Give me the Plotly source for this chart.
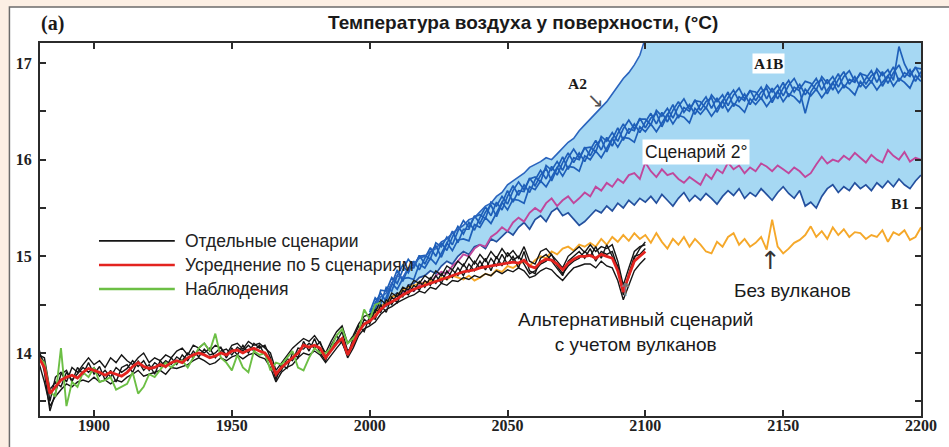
import plotly.graph_objects as go

# ---------------- data ----------------
HIST_YEARS = list(range(1880, 2101, 2))
OBS_YEARS = list(range(1880, 2005, 2))
FUT_YEARS = list(range(2000, 2201, 2))
A2_YEARS = list(range(2000, 2101, 2))
MAG_YEARS = list(range(2010, 2201, 2))

ENSEMBLE_MEAN = [
    13.95, 13.85, 13.58, 13.65, 13.72, 13.75, 13.77, 13.74, 13.80, 13.84,
    13.82, 13.80, 13.77, 13.80, 13.78, 13.76, 13.80, 13.86, 13.90, 13.86,
    13.84, 13.85, 13.88, 13.86, 13.90, 13.92, 13.90, 13.95, 13.98, 14.00,
    13.98, 13.95, 13.97, 14.00, 13.98, 14.02, 14.03, 14.00, 14.03, 14.05,
    14.02, 14.00, 13.92, 13.78, 13.85, 13.90, 13.95, 14.00, 14.08, 14.06,
    14.08, 14.05, 13.95, 14.02, 14.10, 14.15, 13.98, 14.10, 14.22, 14.30,
    14.33, 14.38, 14.45, 14.50, 14.53, 14.56, 14.60, 14.63, 14.66, 14.68,
    14.70, 14.72, 14.74, 14.76, 14.78, 14.80, 14.82, 14.84, 14.85, 14.86,
    14.88, 14.89, 14.90, 14.91, 14.92, 14.93, 14.94, 14.93, 14.96, 14.90,
    14.88, 14.94, 14.97, 14.96, 14.92, 14.86, 14.93, 14.97, 15.00, 15.00,
    15.01, 14.98, 15.02, 15.00, 14.98, 14.85, 14.63, 14.80, 14.95, 15.00,
    15.05]

RUN_1 = [
    14.00, 13.90, 13.50, 13.75, 13.80, 13.70, 13.85, 13.80, 13.88, 13.95,
    13.88, 13.92, 13.85, 13.95, 13.90, 13.98, 13.92, 13.88, 13.95, 14.00,
    13.90, 13.95, 13.92, 13.98, 13.95, 14.02, 14.05, 13.98, 14.08, 14.05,
    14.10, 14.02, 14.08, 14.05, 13.98, 14.08, 14.10, 14.04, 14.12, 14.08,
    14.10, 14.05, 14.00, 13.82, 13.90, 13.98, 14.05, 14.10, 14.15, 14.12,
    14.18, 14.10, 14.00, 14.12, 14.22, 14.28, 14.10, 14.18, 14.30, 14.38,
    14.40, 14.42, 14.55, 14.50, 14.62, 14.58, 14.68, 14.65, 14.75, 14.72,
    14.80, 14.76, 14.85, 14.80, 14.90, 14.86, 14.95, 14.90, 15.00, 14.92,
    15.02, 14.95, 15.05, 14.98, 15.08, 15.00, 15.06, 14.98, 15.10, 14.95,
    14.92, 15.05, 15.08, 15.02, 14.95, 14.88, 15.00, 15.05, 15.10, 15.04,
    15.12, 15.05, 15.10, 15.08, 15.12, 14.95, 14.70, 14.88, 15.05, 15.10,
    15.12]

RUN_2 = [
    13.90, 13.70, 13.45, 13.55, 13.62, 13.68, 13.65, 13.70, 13.72, 13.70,
    13.75, 13.70, 13.72, 13.68, 13.72, 13.70, 13.75, 13.78, 13.82, 13.76,
    13.78, 13.80, 13.82, 13.78, 13.85, 13.84, 13.86, 13.88, 13.92, 13.95,
    13.92, 13.88, 13.90, 13.95, 13.92, 13.96, 13.98, 13.94, 13.98, 14.00,
    13.96, 13.94, 13.85, 13.70, 13.80, 13.85, 13.88, 13.95, 14.00, 13.98,
    14.02, 13.98, 13.90, 13.98, 14.05, 14.12, 13.95, 14.05, 14.18, 14.25,
    14.28, 14.32, 14.40, 14.45, 14.48, 14.52, 14.55, 14.58, 14.60, 14.64,
    14.62, 14.68, 14.66, 14.72, 14.70, 14.75, 14.74, 14.78, 14.76, 14.80,
    14.78, 14.82, 14.80, 14.85, 14.82, 14.86, 14.84, 14.88, 14.85, 14.78,
    14.80, 14.85, 14.88, 14.86, 14.80, 14.75, 14.82, 14.88, 14.90, 14.92,
    14.92, 14.88, 14.95, 14.90, 14.88, 14.75, 14.55, 14.70, 14.85, 14.92,
    14.98]

RUN_3 = [
    14.05, 13.80, 13.40, 13.60, 13.78, 13.82, 13.70, 13.85, 13.78, 13.90,
    13.78, 13.86, 13.72, 13.82, 13.70, 13.85, 13.88, 13.80, 13.92, 13.82,
    13.88, 13.78, 13.92, 13.85, 13.95, 13.88, 13.98, 13.92, 14.02, 13.96,
    14.04, 13.98, 14.00, 14.06, 13.95, 14.05, 13.98, 14.08, 14.00, 14.10,
    14.05, 14.08, 13.95, 13.72, 13.88, 13.84, 14.00, 13.95, 14.12, 14.02,
    14.15, 14.00, 13.92, 14.08, 14.18, 14.10, 13.98, 14.15, 14.28, 14.22,
    14.38, 14.35, 14.50, 14.42, 14.58, 14.52, 14.65, 14.60, 14.70, 14.65,
    14.75, 14.70, 14.80, 14.72, 14.85, 14.78, 14.88, 14.80, 14.92, 14.85,
    14.95, 14.86, 14.98, 14.90, 15.02, 14.92, 15.00, 14.88, 15.05, 14.85,
    14.82, 14.98, 15.02, 14.95, 14.88, 14.80, 14.95, 15.00, 15.05, 14.98,
    15.08, 14.95, 15.05, 15.02, 15.05, 14.88, 14.60, 14.82, 15.00, 15.02,
    15.08]

RUN_4 = [
    13.98, 13.95, 13.62, 13.70, 13.65, 13.80, 13.72, 13.78, 13.85, 13.80,
    13.85, 13.76, 13.82, 13.75, 13.85, 13.80, 13.84, 13.92, 13.86, 13.92,
    13.82, 13.90, 13.86, 13.92, 13.88, 13.96, 13.92, 14.00, 13.95, 14.04,
    14.00, 14.05, 13.95, 14.02, 14.04, 13.98, 14.06, 14.02, 14.08, 14.02,
    14.08, 13.98, 13.90, 13.76, 13.82, 13.94, 13.92, 14.05, 14.04, 14.10,
    14.05, 14.12, 13.96, 14.05, 14.12, 14.22, 14.02, 14.08, 14.20, 14.35,
    14.30, 14.45, 14.42, 14.55, 14.50, 14.62, 14.58, 14.70, 14.64, 14.74,
    14.68, 14.78, 14.72, 14.82, 14.76, 14.86, 14.80, 14.92, 14.84, 14.95,
    14.88, 14.98, 14.85, 15.00, 14.90, 15.04, 14.96, 15.00, 14.92, 14.82,
    14.85, 14.92, 14.95, 15.02, 14.90, 14.82, 14.90, 14.95, 14.98, 15.05,
    15.00, 15.10, 14.98, 15.12, 15.00, 14.90, 14.65, 14.78, 14.98, 15.08,
    15.15]

OBSERVED = [
    13.95, 13.90, 13.60, 13.55, 14.05, 13.45, 13.70, 13.65, 13.80, 13.75,
    13.85, 13.70, 13.72, 13.75, 13.62, 13.65, 13.68, 13.80, 13.58, 13.65,
    13.78, 13.75, 13.82, 13.90, 13.85, 13.90, 13.92, 13.85, 13.95, 14.05,
    14.10, 14.02, 14.20, 13.95, 13.90, 13.82, 13.98, 13.85, 13.80, 14.02,
    13.98, 14.00, 13.82, 13.90, 13.88, 13.95, 14.02, 13.85, 13.82, 13.95,
    14.05, 14.00, 14.00, 14.05, 14.18, 14.25, 14.10, 14.15, 14.22, 14.45,
    14.35, 14.50, 14.52]

NO_VOLCANO = [
    14.35, 14.42, 14.48, 14.52, 14.58, 14.60, 14.65, 14.68, 14.70, 14.72,
    14.72, 14.75, 14.74, 14.78, 14.76, 14.80, 14.78, 14.76, 14.80, 14.75,
    14.78, 14.82, 14.80, 14.86, 14.84, 14.90, 14.88, 14.92, 14.95, 14.90,
    14.96, 15.00, 14.98, 15.05, 15.02, 15.08, 15.10, 15.06, 15.12, 15.10,
    15.14, 15.10, 15.18, 15.12, 15.20, 15.15, 15.22, 15.16, 15.24, 15.18,
    15.22, 15.14, 15.24, 15.15, 15.08, 15.18, 15.12, 15.20, 15.10, 15.18,
    15.12, 15.05, 15.03, 15.15, 15.10, 15.20, 15.24, 15.12, 15.18, 15.10,
    15.14, 15.20, 15.07, 15.38, 15.10, 15.03, 15.08, 15.14, 15.17, 15.22,
    15.31, 15.20, 15.26, 15.18, 15.30, 15.22, 15.28, 15.20, 15.25, 15.24,
    15.18, 15.22, 15.20, 15.27, 15.15, 15.25, 15.22, 15.27, 15.17, 15.20,
    15.30]

A1B_1 = [
    14.45, 14.45, 14.65, 14.64, 14.78, 14.72, 14.86, 14.97, 14.90, 15.00,
    15.01, 14.97, 15.14, 15.10, 15.20, 15.12, 15.26, 15.37, 15.30, 15.41,
    15.43, 15.39, 15.56, 15.52, 15.62, 15.54, 15.68, 15.77, 15.69, 15.80,
    15.82, 15.77, 15.94, 15.89, 15.98, 15.89, 16.02, 16.11, 16.02, 16.12,
    16.13, 16.08, 16.24, 16.19, 16.28, 16.19, 16.32, 16.41, 16.32, 16.42,
    16.42, 16.36, 16.51, 16.45, 16.53, 16.43, 16.55, 16.63, 16.52, 16.61,
    16.60, 16.53, 16.67, 16.60, 16.67, 16.56, 16.67, 16.74, 16.63, 16.71,
    16.70, 16.63, 16.77, 16.70, 16.77, 16.66, 16.77, 16.84, 16.73, 16.81,
    16.79, 16.72, 16.86, 16.79, 16.86, 16.75, 16.86, 16.92, 16.81, 16.89,
    16.87, 16.80, 16.94, 16.87, 16.93, 16.82, 17.17, 16.99, 16.88, 16.95,
    16.94]

A1B_2 = [
    14.32, 14.46, 14.43, 14.57, 14.72, 14.66, 14.77, 14.78, 14.76, 14.92,
    14.88, 14.98, 14.92, 15.03, 15.14, 15.06, 15.17, 15.18, 15.16, 15.33,
    15.30, 15.40, 15.34, 15.45, 15.56, 15.48, 15.59, 15.58, 15.55, 15.72,
    15.69, 15.78, 15.72, 15.82, 15.92, 15.83, 15.93, 15.92, 15.88, 16.04,
    16.00, 16.09, 16.02, 16.12, 16.22, 16.13, 16.23, 16.22, 16.18, 16.34,
    16.29, 16.37, 16.29, 16.38, 16.47, 16.37, 16.46, 16.44, 16.38, 16.53,
    16.47, 16.54, 16.45, 16.53, 16.61, 16.50, 16.58, 16.55, 16.49, 16.63,
    16.57, 16.64, 16.55, 16.63, 16.71, 16.60, 16.68, 16.65, 16.59, 16.73,
    16.66, 16.73, 16.64, 16.72, 16.80, 16.69, 16.77, 16.73, 16.67, 16.81,
    16.74, 16.81, 16.72, 16.80, 16.87, 16.76, 16.84, 16.80, 16.74, 16.87,
    16.81]

A1B_3 = [
    14.42, 14.57, 14.51, 14.68, 14.64, 14.80, 14.91, 14.83, 14.95, 14.86,
    14.98, 15.09, 15.00, 15.14, 15.06, 15.20, 15.31, 15.23, 15.35, 15.27,
    15.40, 15.51, 15.42, 15.56, 15.48, 15.62, 15.73, 15.63, 15.74, 15.66,
    15.79, 15.89, 15.80, 15.93, 15.84, 15.97, 16.07, 15.97, 16.07, 15.98,
    16.10, 16.20, 16.10, 16.23, 16.14, 16.27, 16.37, 16.27, 16.37, 16.28,
    16.39, 16.48, 16.37, 16.49, 16.39, 16.51, 16.60, 16.49, 16.57, 16.47,
    16.57, 16.65, 16.53, 16.64, 16.53, 16.64, 16.72, 16.60, 16.68, 16.57,
    16.67, 16.75, 16.63, 16.74, 16.63, 16.74, 16.82, 16.70, 16.78, 16.67,
    16.76, 16.84, 16.72, 16.83, 16.72, 16.83, 16.91, 16.78, 16.86, 16.75,
    16.84, 16.92, 16.80, 16.91, 16.79, 16.90, 16.98, 16.85, 16.93, 16.81,
    16.91]

A1B_4 = [
    14.36, 14.52, 14.62, 14.53, 14.71, 14.86, 14.74, 14.88, 14.88, 15.01,
    14.92, 15.04, 15.11, 14.99, 15.13, 15.26, 15.14, 15.28, 15.28, 15.42,
    15.34, 15.46, 15.53, 15.41, 15.55, 15.68, 15.56, 15.68, 15.67, 15.81,
    15.73, 15.84, 15.91, 15.78, 15.91, 16.03, 15.90, 16.02, 16.00, 16.13,
    16.04, 16.15, 16.21, 16.08, 16.21, 16.33, 16.20, 16.32, 16.30, 16.43,
    16.33, 16.43, 16.48, 16.34, 16.46, 16.57, 16.43, 16.54, 16.50, 16.62,
    16.51, 16.60, 16.64, 16.49, 16.60, 16.70, 16.55, 16.65, 16.61, 16.72,
    16.61, 16.70, 16.74, 16.59, 16.70, 16.80, 16.65, 16.75, 16.71, 16.48,
    16.70, 16.79, 16.83, 16.68, 16.79, 16.89, 16.74, 16.83, 16.80, 16.90,
    16.78, 16.87, 16.91, 16.76, 16.86, 16.96, 16.81, 16.90, 16.86, 16.96,
    16.85]

A2 = [
    14.40, 14.50, 14.58, 14.62, 14.72, 14.80, 14.78, 14.88, 14.92, 14.98,
    15.00, 15.05, 15.08, 15.15, 15.18, 15.24, 15.28, 15.32, 15.38, 15.40,
    15.46, 15.52, 15.55, 15.62, 15.66, 15.74, 15.78, 15.82, 15.86, 15.92,
    15.95, 15.98, 16.02, 16.00, 16.06, 16.12, 16.18, 16.22, 16.30, 16.36,
    16.42, 16.48, 16.55, 16.60, 16.68, 16.76, 16.84, 16.90, 16.98, 17.08,
    17.26]

B1 = [
    14.35, 14.42, 14.50, 14.48, 14.58, 14.62, 14.60, 14.70, 14.72, 14.78,
    14.80, 14.85, 14.82, 14.90, 14.95, 14.92, 15.00, 15.05, 15.02, 15.10,
    15.12, 15.08, 15.18, 15.15, 15.20, 15.26, 15.22, 15.30, 15.35, 15.28,
    15.38, 15.42, 15.36, 15.46, 15.50, 15.42, 15.45, 15.38, 15.32, 15.36,
    15.42, 15.48, 15.45, 15.52, 15.47, 15.55, 15.50, 15.58, 15.53, 15.60,
    15.56, 15.62, 15.55, 15.64, 15.58, 15.52, 15.60, 15.66, 15.57, 15.63,
    15.58, 15.65, 15.60, 15.54, 15.62, 15.68, 15.63, 15.70, 15.60, 15.66,
    15.62, 15.70, 15.64, 15.58, 15.66, 15.72, 15.65, 15.60, 15.68, 15.52,
    15.56, 15.50, 15.62, 15.70, 15.74, 15.66, 15.72, 15.68, 15.76, 15.70,
    15.74, 15.68, 15.76, 15.71, 15.78, 15.72, 15.80, 15.74, 15.70, 15.78,
    15.84]

TWO_DEG = [
    14.58, 14.62, 14.66, 14.64, 14.70, 14.74, 14.72, 14.80, 14.84, 14.82,
    14.90, 14.95, 15.02, 15.00, 15.08, 15.12, 15.10, 15.20, 15.24, 15.30,
    15.26, 15.35, 15.40, 15.36, 15.45, 15.50, 15.46, 15.55, 15.60, 15.52,
    15.58, 15.62, 15.55, 15.60, 15.66, 15.62, 15.72, 15.68, 15.76, 15.72,
    15.80, 15.76, 15.84, 15.86, 15.80, 15.97, 15.88, 15.82, 15.90, 15.84,
    15.86, 15.80, 15.76, 15.82, 15.78, 15.74, 15.85, 15.80, 15.90, 15.86,
    15.97, 15.90, 15.94, 15.86, 15.92, 15.88, 15.96, 15.93, 15.88, 15.94,
    15.90, 15.86, 15.92, 15.88, 15.82, 15.86, 15.95, 16.03, 15.96, 16.00,
    15.98, 16.04, 16.00, 16.07, 16.02, 15.97, 16.05, 16.00, 15.97, 16.10,
    16.04, 16.00, 16.08, 15.98, 16.02, 16.00]

X_TICKS = [1900, 1950, 2000, 2050, 2100, 2150, 2200]
Y_TICKS = [14, 15, 16, 17]
Y_MINOR_TICKS = [13.5, 14.5, 15.5, 16.5]

TITLE = "Температура воздуха у поверхности, (°C)"
LEGEND_LABELS = ["Отдельные сценарии", "Усреднение по 5 сценариям", "Наблюдения"]

# ---------------- styling ----------------
X_RANGE = [1880.4, 2200]
Y_RANGE = [13.348, 17.207]

C_BLACK = "#151515"
C_RED = "#e3231f"
C_GREEN = "#6cbf45"
C_ORANGE = "#f5a82a"
C_MAGENTA = "#c0479c"
C_A1B = "#1e5fb9"
C_A2 = "#2a64be"
C_B1 = "#24509e"
C_FILL = "#a6d8f3"

SANS = "Liberation Sans, Arial, sans-serif"
SERIF = "Liberation Serif, Times New Roman, serif"
ARROWS = "DejaVu Sans, sans-serif"

fig = go.Figure()

# shaded scenario envelope (between B1 and A2 / top of chart)
upper = [min(v, Y_RANGE[1]) for v in A2] + [Y_RANGE[1]] * (len(FUT_YEARS) - len(A2))
fig.add_trace(go.Scatter(
    x=FUT_YEARS + FUT_YEARS[::-1],
    y=upper + B1[::-1],
    fill="toself", fillcolor=C_FILL, line=dict(width=0),
    mode="lines", hoverinfo="skip", showlegend=False))

for series in (A1B_1, A1B_2, A1B_3, A1B_4):
    fig.add_trace(go.Scatter(x=FUT_YEARS, y=series, mode="lines",
                             line=dict(color=C_A1B, width=1.7), showlegend=False))
fig.add_trace(go.Scatter(x=A2_YEARS, y=A2, mode="lines",
                         line=dict(color=C_A2, width=1.6), showlegend=False))
fig.add_trace(go.Scatter(x=FUT_YEARS, y=B1, mode="lines",
                         line=dict(color=C_B1, width=1.7), showlegend=False))
fig.add_trace(go.Scatter(x=MAG_YEARS, y=TWO_DEG, mode="lines",
                         line=dict(color=C_MAGENTA, width=1.9), showlegend=False))
fig.add_trace(go.Scatter(x=FUT_YEARS, y=NO_VOLCANO, mode="lines",
                         line=dict(color=C_ORANGE, width=1.9), showlegend=False))
for series in (RUN_1, RUN_2, RUN_3, RUN_4):
    fig.add_trace(go.Scatter(x=HIST_YEARS, y=series, mode="lines",
                             line=dict(color=C_BLACK, width=1.4), showlegend=False))
fig.add_trace(go.Scatter(x=OBS_YEARS, y=OBSERVED, mode="lines",
                         line=dict(color=C_GREEN, width=1.9), showlegend=False))
fig.add_trace(go.Scatter(x=HIST_YEARS, y=ENSEMBLE_MEAN, mode="lines",
                         line=dict(color=C_RED, width=2.8), showlegend=False))

# ---------------- layout ----------------
axis_common = dict(showline=True, linecolor="#2b2b2b", linewidth=2, mirror="ticks",
                   ticks="inside", ticklen=6, tickwidth=2, tickcolor="#2b2b2b",
                   showgrid=False, zeroline=False, fixedrange=True)

fig.update_layout(
    width=949, height=447,
    margin=dict(l=40, r=16, t=43, b=31),
    paper_bgcolor="#fcefe4", plot_bgcolor="white",
    showlegend=False,
    xaxis=dict(range=X_RANGE, tickvals=X_TICKS, ticklabelstandoff=-6,
               tickfont=dict(family=SERIF, size=16, color="#222", weight="bold"),
               **axis_common),
    yaxis=dict(range=Y_RANGE, tickvals=Y_TICKS, ticklabelstandoff=3,
               tickfont=dict(family=SERIF, size=16, color="#222", weight="bold"),
               minor=dict(tickvals=Y_MINOR_TICKS, ticks="inside", ticklen=6,
                          tickwidth=2, tickcolor="#2b2b2b", showgrid=False),
               **axis_common),
)

# white panel with grey border
fig.add_shape(type="rect", xref="paper", yref="paper",
              x0=-0.0347, x1=1.1, y0=-0.2, y1=1.0965,
              fillcolor="white", line=dict(color="#6b6b6b", width=1.5), layer="below")

# legend drawn as short line samples + labels
legend_rows = [(15.159, C_BLACK, 1.8), (14.910, C_RED, 2.6), (14.662, C_GREEN, 2.6)]
for (yv, col, w), label in zip(legend_rows, LEGEND_LABELS):
    fig.add_shape(type="line", xref="x", yref="y", x0=1901.8, x1=1929.3, y0=yv, y1=yv,
                  line=dict(color=col, width=w))
    fig.add_annotation(x=1932.2, y=yv, xref="x", yref="y", text=label, showarrow=False,
                       xanchor="left", yanchor="middle",
                       font=dict(family=SANS, size=17.5, color="#222"))

# titles
fig.add_annotation(x=0.548, y=1.0563, xref="paper", yref="paper", text=TITLE,
                   showarrow=False, xanchor="center", yanchor="middle",
                   font=dict(family=SANS, size=19, color="#1a1a1a", weight="bold"))
fig.add_annotation(x=0.0145, y=1.0536, xref="paper", yref="paper", text="(a)",
                   showarrow=False, xanchor="center", yanchor="middle",
                   font=dict(family=SERIF, size=20, color="#1a1a1a", weight="bold"))

# scenario labels
fig.add_annotation(x=2075.3, y=16.79, text="A2", showarrow=False,
                   font=dict(family=SERIF, size=15.5, color="#1a1a1a", weight="bold"))
fig.add_annotation(x=2082.0, y=16.62, text="↘", showarrow=False,
                   font=dict(family=ARROWS, size=20, color="#555"))
fig.add_annotation(x=2144.8, y=17.0, text="A1B", showarrow=False, bgcolor="white",
                   borderpad=1,
                   font=dict(family=SERIF, size=15.5, color="#1a1a1a", weight="bold"))
fig.add_annotation(x=2118.5, y=16.08, text="Сценарий 2°", showarrow=False,
                   bgcolor="white", borderpad=2,
                   font=dict(family=SANS, size=17.5, color="#1a1a1a"))
fig.add_annotation(x=2192.5, y=15.55, text="B1", showarrow=False,
                   font=dict(family=SERIF, size=15.5, color="#1a1a1a", weight="bold"))

fig.add_annotation(x=2153.5, y=14.65, text="Без вулканов", showarrow=False,
                   font=dict(family=SANS, size=19, color="#1a1a1a"))
fig.add_annotation(x=2145.3, y=14.952, text="↑", showarrow=False,
                   font=dict(family=ARROWS, size=25, color="#333"))
fig.add_annotation(x=2096.6, y=14.217,
                   text="Альтернативный сценарий<br>с учетом вулканов", showarrow=False,
                   font=dict(family=SANS, size=19, color="#1a1a1a"))
fig.add_annotation(x=2092.8, y=14.652, text="↑", showarrow=False,
                   font=dict(family=ARROWS, size=18, color="#777"))

fig.write_html("out.html", config={"displayModeBar": False},
               post_script="document.body.style.margin='0';")
